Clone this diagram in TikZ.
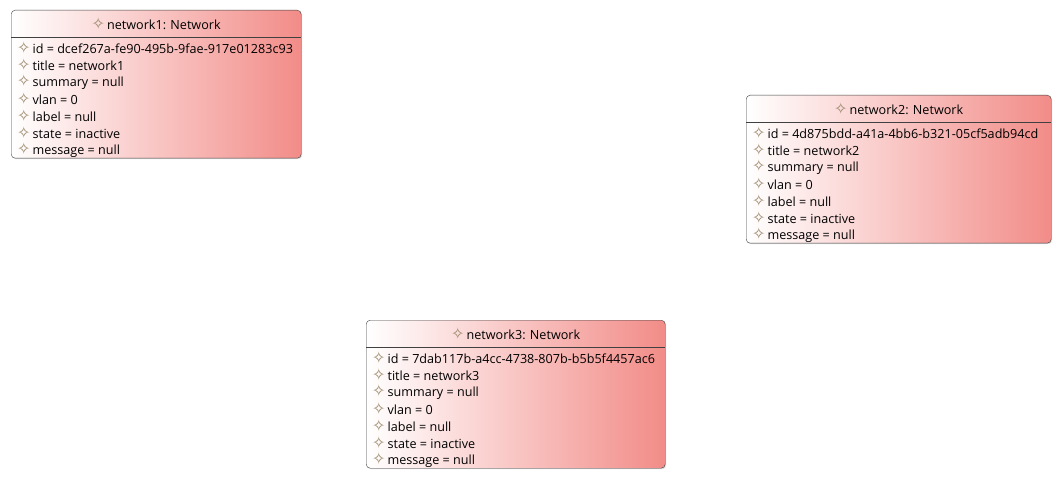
\documentclass[tikz,border=0pt]{standalone}
\usepackage{fontspec}
\setmainfont{Open Sans}
\newfontfamily\symfont{DejaVu Sans}
\usepackage{xcolor}
\usepackage{tikz}
\usetikzlibrary{positioning,shadows}
\definecolor{boxred}{HTML}{F28C88}
\definecolor{iconbrown}{HTML}{9C8A6E}
\newcommand{\attricon}{{\symfont\fontsize{16}{16}\selectfont\color{iconbrown}\raisebox{-0.5pt}{\char"2727}}\hspace{2pt}}
\tikzset{%
  every netbox/.style={
    draw=black!75,
    rounded corners=4pt,
    left color=white,
    right color=boxred,
    minimum height=148pt,
    anchor=north west,
    inner sep=0pt,
    drop shadow={shadow xshift=1pt, shadow yshift=-1pt, opacity=0.25}
  },
  every attr/.style={
    anchor=west,
    inner sep=0pt,
    font=\fontsize{12.6}{14}\selectfont
  },
}

\begin{document}
\begin{tikzpicture}[x=1pt, y=-1pt]

    \useasboundingbox (0,0) rectangle (1063,481);

    \foreach \n/\x/\y/\w/\id in {%
        1/11/10/290/dcef267a-fe90-495b-9fae-917e01283c93,
        2/746/95/305/4d875bdd-a41a-4bb6-b321-05cf5adb94cd,
        3/366/320/299/7dab117b-a4cc-4738-807b-b5b5f4457ac6}
    {
    \node [every netbox/.try, minimum width=\w pt] (net\n) at (\x,\y) {};

    \draw [black!75] ([yshift=-27pt]net\n.north west) -- ([yshift=-27pt]net\n.north east);

    \node [every attr/.try, anchor=center] (net\n-title) at ([yshift=-14pt]net\n.north)
        {\attricon network\n: Network};

    \foreach \a [count=\r] in {id = \id, title = network\n, summary = null,
        vlan = 0, label = null, state = inactive, message = null}
    \node [every attr/.try] (net\n-\r) at ([xshift=6pt, yshift={-21pt-17pt*\r}]net\n.north west)
        {\attricon \a};
    }

\end{tikzpicture}
\end{document}
